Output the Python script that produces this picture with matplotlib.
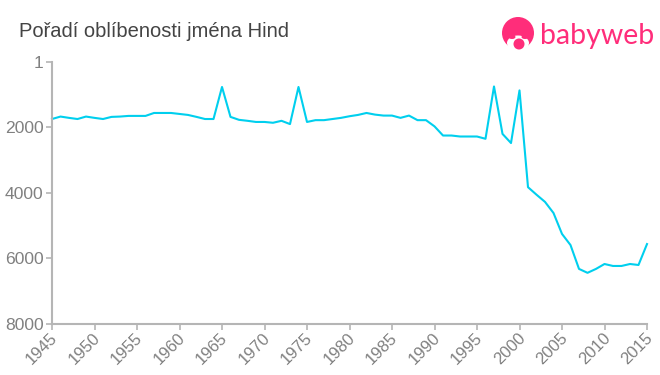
import matplotlib
matplotlib.use('Agg')
import matplotlib.pyplot as plt
from matplotlib.patches import Circle, Ellipse
from matplotlib.transforms import ScaledTranslation

plt.rcParams['font.family'] = ['Liberation Sans', 'DejaVu Sans']

# Rank of the name per year
years = list(range(1945, 2016))
ranks = [1745, 1670, 1710, 1745, 1670, 1710, 1745, 1680, 1670, 1650,
         1650, 1650, 1560, 1560, 1560, 1590, 1620, 1680, 1745, 1745,
         765, 1680, 1770, 1800, 1835, 1835, 1860, 1800, 1900, 765,
         1835, 1780, 1780, 1745, 1710, 1660, 1620, 1560, 1610, 1640,
         1640, 1710, 1640, 1780, 1780, 1970, 2250, 2250, 2280, 2280,
         2280, 2350, 750, 2200, 2480, 870, 3830, 4060, 4280, 4620,
         5260, 5600, 6330, 6450, 6330, 6180, 6240, 6240, 6180, 6210,
         5570]
y_ticks = [1, 2000, 4000, 6000, 8000]
x_ticks = list(range(1945, 2016, 5))

title = 'Pořadí oblíbenosti jména Hind'
line_color = '#00cfee'
axis_color = '#b5b5b5'
text_color = '#808080'
pink = '#ff2d7a'

W, H = 660, 375
fig = plt.figure(figsize=(W / 100, H / 100), dpi=100)
ax = fig.add_axes([52 / W, 1 - 323.5 / H, (647 - 52) / W, (323.5 - 62) / H])

ax.plot(years, ranks, color=line_color, linewidth=1.5, clip_on=False)
ax.set_xlim(1945, 2015)
ax.set_ylim(8000, 1)

ax.set_yticks(y_ticks)
ax.set_xticks(x_ticks)
ax.set_xticklabels(x_ticks, rotation=45, ha='right', rotation_mode='anchor')
ax.tick_params(axis='both', color=axis_color, labelcolor=text_color,
               length=4, width=1.2, pad=2)
ax.tick_params(axis='y', labelsize=12.6)
ax.tick_params(axis='x', labelsize=12)
# labels sit a little away from where matplotlib puts them
shift = ScaledTranslation(-2 / 100, 2 / 100, fig.dpi_scale_trans)
for label in ax.get_xticklabels():
    label.set_transform(label.get_transform() + shift)
for side in ['top', 'right']:
    ax.spines[side].set_visible(False)
for side in ['left', 'bottom']:
    ax.spines[side].set_color(axis_color)
    ax.spines[side].set_linewidth(1.5)

fig.text(19 / W, 1 - 37 / H, title, fontsize=14.5, color='#444444', va='baseline')

# logo
logo = fig.add_axes([0, 0, 1, 1], facecolor='none')
logo.set_xlim(0, W)
logo.set_ylim(H, 0)
logo.axis('off')
logo.add_patch(Circle((518, 33), 16, color=pink, lw=0))
logo.add_patch(Ellipse((518, 43), 22, 15, color='white', lw=0))
logo.add_patch(Ellipse((512, 37), 7, 4, color=pink, lw=0))
logo.add_patch(Ellipse((525, 37), 7, 4, color=pink, lw=0))
logo.add_patch(Circle((519, 44), 5.5, color=pink, lw=0))
logo.text(540, 44, 'babyweb', fontsize=20.5, color=pink, family=['Lato', 'DejaVu Sans'],
          va='baseline', ha='left')

fig.savefig('out.png', dpi=100)
